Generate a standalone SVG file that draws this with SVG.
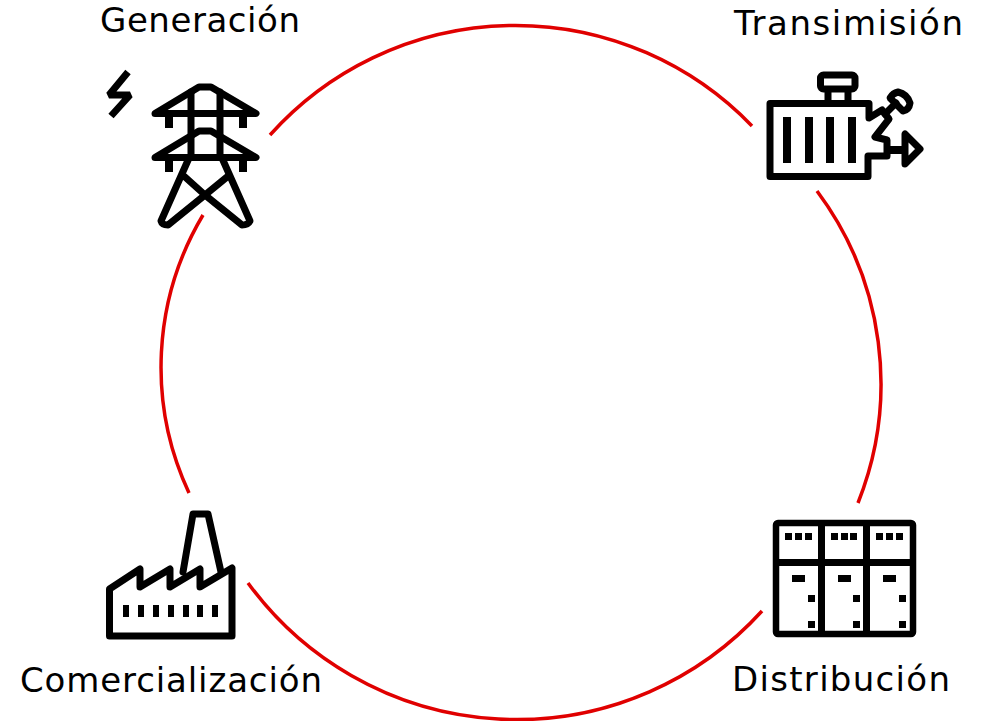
<svg xmlns="http://www.w3.org/2000/svg" width="989" height="721" viewBox="0 0 989 721">
<style>
text{font-family:"DejaVu Sans","Noto Sans","Liberation Sans",sans-serif;font-size:34px;fill:#000}
.arc{fill:none;stroke:#e00000;stroke-width:3.5}
.i{fill:none;stroke:#000;stroke-width:6.5;stroke-linejoin:round;stroke-linecap:round}
.h{stroke-width:7}
.f{fill:#000}
</style>
<rect width="989" height="721" fill="#fff"/>
<g id="connectors">
<path class="arc" d="M270 135A329 329 0 0 1 752 126"/>
<path class="arc" d="M817 191A322 322 0 0 1 858 503"/>
<path class="arc" d="M762 611A332 332 0 0 1 248 583"/>
<path class="arc" d="M189 493A297 297 0 0 1 203 215"/>
</g>
<g id="generacion">
<path d="M128 72L109 95H130L111 116" fill="none" stroke="#000" stroke-width="7" stroke-linejoin="bevel"/>
<g class="i h">
<path d="M155 113.500L199 87H211L256 113.500Z"/>
<path d="M155 157.500L199 131H211L256 157.500Z"/>
<path d="M191 92V157M220 92V157"/>
<path d="M189 158L161 221Q162 225 168 225L205 195L242 225Q248 225 250 221L222 158"/>
<path d="M185 177L205 195L227 177"/>
</g>
<path class="f" d="M165 113h8v15h-8zM239 113h8v15h-8zM165 157h8v15h-8zM239 157h8v15h-8z"/>
<text x="100" y="32" textLength="200" lengthAdjust="spacing">Generación</text>
</g>
<g id="transmision">
<g class="i h">
<rect x="820.500" y="75" width="34.500" height="14" rx="3"/>
<path d="M828 90V103M848 90V103"/>
<path d="M770 103.500H869V118L882 110L889 119L875 137L887 140V156H868V176.500H770Z"/>
<path d="M885 114L896 103"/>
<path d="M890 98Q893 93 898 92Q907 94 910 103Q909 110 903 111Z"/>
<path d="M905 134V164L920 149Z"/>
</g>
<path d="M887 150H905" stroke="#000" stroke-width="8" fill="none"/>
<path class="f" d="M783 117h8v46h-8zM805 117h8v46h-8zM826 117h8v46h-8zM848 117h8v46h-8z"/>
<text x="734" y="35" textLength="229" lengthAdjust="spacing">Transimisión</text>
</g>
<g id="distribucion">
<rect x="776" y="523" width="137" height="111" rx="2" fill="none" stroke="#000" stroke-width="6.500"/>
<path class="f" d="M818 520h7v116h-7zM863 520h7v116h-7zM776 559h138v7h-138z"/>
<path class="f" d="M785 533h7v7h-7zM795 533h7v7h-7zM805 533h7v7h-7zM831 533h7v7h-7zM841 533h7v7h-7zM850 533h7v7h-7zM876 533h7v7h-7zM886 533h7v7h-7zM896 533h7v7h-7zM792 575h13v7h-13zM838 575h13v7h-13zM883 575h13v7h-13zM808 595h7v7h-7zM853 595h7v7h-7zM899 595h7v7h-7zM808 621h7v7h-7zM853 621h7v7h-7zM899 621h7v7h-7z"/>
<text x="732" y="691" textLength="218" lengthAdjust="spacing">Distribución</text>
</g>
<g id="comercializacion">
<path class="i h" d="M109.500 636V589L140 569V587L170 569V587L200 569V587L232 568V636Z"/>
<path class="i h" d="M183 572L193 514H208L221 572"/>
<path class="f" d="M123 605h6v12h-6zM138 605h6v12h-6zM153 605h6v12h-6zM168 605h6v12h-6zM183 605h6v12h-6zM197 605h6v12h-6zM212 605h6v12h-6z"/>
<text x="20" y="692" textLength="302" lengthAdjust="spacing">Comercialización</text>
</g>
</svg>
